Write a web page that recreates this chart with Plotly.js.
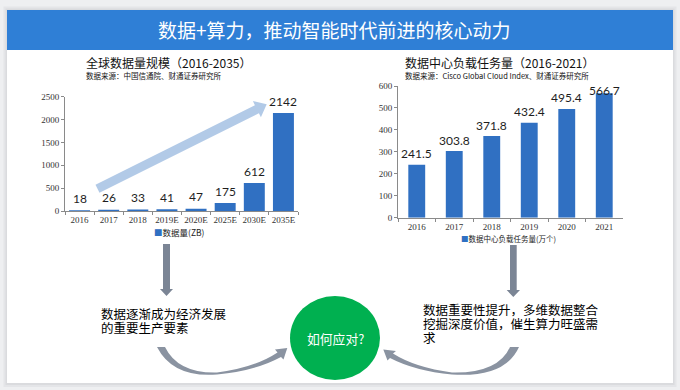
<!DOCTYPE html>
<html>
<head>
<meta charset="utf-8">
<script src="https://cdn.plot.ly/plotly-3.0.1.min.js"></script>
<style>
html,body{margin:0;padding:0;background:#eeeff1;}
#chart{width:680px;height:390px;}
</style>
</head>
<body>
<div id="chart"></div>
<script>
// ---- data ----
const leftCategories = ['2016','2017','2018','2019E','2020E','2025E','2030E','2035E'];
const leftValues = [18, 26, 33, 41, 47, 175, 612, 2142];
const leftTitle = '全球数据量规模（2016-2035）';
const leftSource = '数据来源：中国信通院、财通证券研究所';
const leftSeriesName = '数据量(ZB)';

const rightCategories = ['2016','2017','2018','2019','2020','2021'];
const rightValues = [241.5, 303.8, 371.8, 432.4, 495.4, 566.7];
const rightTitle = '数据中心负载任务量（2016-2021）';
const rightSource = '数据来源：Cisco Global Cloud Index、财通证券研究所';
const rightSeriesName = '数据中心负载任务量(万个)';

const mainTitle = '数据+算力，推动智能时代前进的核心动力';
const leftNoteLines = ['数据逐渐成为经济发展', '的重要生产要素'];
const rightNoteLines = ['数据重要性提升，多维数据整合', '挖掘深度价值，催生算力旺盛需', '求'];
const centerText = '如何应对?';

// ---- helpers ----
const W = 680, H = 390;
const fx = x => x / W;
const fy = y => 1 - y / H;
function path(cmds){
  return cmds.map(c => {
    const k = c[0]; const a = c.slice(1); const pts = [];
    for (let i = 0; i < a.length; i += 2) pts.push(fx(a[i]).toFixed(5) + ',' + fy(a[i+1]).toFixed(5));
    return k + pts.join(' ');
  }).join(' ') + ' Z';
}
function rectP(x0,y0,x1,y1,color,layer){
  return {type:'rect', xref:'paper', yref:'paper', x0:fx(x0), x1:fx(x1), y0:fy(y1), y1:fy(y0),
          fillcolor:color, line:{width:0}, layer:layer||'below'};
}
function txt(x,y,text,size,color,xanchor,family,extra){
  return Object.assign({xref:'paper', yref:'paper', x:fx(x), y:fy(y), text:text, showarrow:false,
    xanchor:xanchor||'left', yanchor:'middle', align:'left',
    font:{size:size, color:color, family:family||'Noto Sans CJK SC'}}, extra||{});
}

const barColor = '#3070c2';
const cjk = 'Noto Sans CJK SC';
const serif = 'Liberation Serif, Times New Roman, serif';
const numFont = 'Lato, Liberation Sans, sans-serif';

// plot geometry (pixels)
const L = {x0:65, x1:298, yb:211, yt:96.7, max:2500};
const R = {x0:398, x1:623, yb:217.7, yt:86, max:600};

const traces = [
  {type:'bar', x:leftCategories, y:leftValues, xaxis:'x', yaxis:'y', width:0.72,
   marker:{color:barColor}, hoverinfo:'skip', showlegend:false},
  {type:'bar', x:rightCategories, y:rightValues, xaxis:'x2', yaxis:'y2', width:0.45,
   marker:{color:barColor}, hoverinfo:'skip', showlegend:false}
];

const axisCommon = {showline:true, linecolor:'#8a8a8a', linewidth:1, ticks:'outside', ticklen:3,
  tickcolor:'#8a8a8a', showgrid:false, zeroline:false, fixedrange:true, tickangle:0,
  tickfont:{family:serif, size:9, color:'#333'}};

const annotations = [];
// data labels (x given as category index)
function labels(cats, vals, geom, axX, axY, fmt, maxShift){
  const hpx = geom.yb - geom.yt;
  cats.forEach((c,i) => {
    const room = (geom.max - vals[i]) / geom.max * hpx - 4;
    annotations.push({xref:axX, yref:axY, x:i, y:vals[i], text:fmt(vals[i]), showarrow:false,
      yanchor:'middle', xanchor:'center', yshift:Math.min(maxShift, room),
      font:{family:numFont, size:12, color:'#1e1e1e'}});
  });
}
labels(leftCategories, leftValues, L, 'x', 'y', v => String(v), 12);
labels(rightCategories, rightValues, R, 'x2', 'y2', v => v.toFixed(1), 11);

// titles
annotations.push(txt(334, 30, mainTitle, 19, '#ffffff', 'center', cjk));
annotations.push(txt(84, 63, leftTitle, 12, '#111', 'left', cjk));
annotations.push(txt(84, 75.5, leftSource, 7.5, '#111', 'left', cjk));
annotations.push(txt(403, 63, rightTitle, 12, '#111', 'left', cjk));
annotations.push(txt(403, 76, rightSource, 7.5, '#111', 'left', cjk));
// legends
annotations.push(txt(152, 232, '<span style="color:' + barColor + '">■</span>' + leftSeriesName, 8.5, '#222', 'left', cjk));
annotations.push(txt(459, 238, '<span style="color:' + barColor + '">■</span>' + rightSeriesName, 7.5, '#222', 'left', cjk));
// notes (one text per line, lines 14px apart as in the reference)
const lineBox = {height:13.5, borderpad:0};
leftNoteLines.forEach((t,i) => annotations.push(txt(100, 313.5 + i*14.3, t, 12.5, '#000', 'left', cjk, lineBox)));
rightNoteLines.forEach((t,i) => annotations.push(txt(422, 310 + i*14, t, 12.5, '#000', 'left', cjk, lineBox)));
annotations.push(txt(335.5, 338, centerText, 12.8, '#ffffff', 'center', cjk));

// shapes
const gray = '#7b8595';
const shapes = [
  rectP(3.5, 6.5, 676.5, 387, '#e4e5e8'),
  rectP(5.5, 8.5, 674.5, 385, '#dadbde'),
  rectP(7, 10, 673, 383, '#ffffff'),
  rectP(7, 10, 673, 50, '#2f7fd6'),
  // big trend arrow
  {type:'path', xref:'paper', yref:'paper', layer:'above', fillcolor:'rgba(170,196,228,0.9)', line:{width:0},
   path: path([['M',95.5,184.7],['L',254.9,105.2],['L',252.9,101.1],['L',266.7,104.3],['L',260.9,117.3],['L',258.9,113.2],['L',99.5,192.7]])},
  // vertical arrows
  {type:'path', xref:'paper', yref:'paper', layer:'above', fillcolor:gray, line:{width:0},
   path: path([['M',163,244],['L',170,244],['L',170,289],['L',173,289],['L',166.5,296],['L',160,289],['L',163,289]])},
  {type:'path', xref:'paper', yref:'paper', layer:'above', fillcolor:gray, line:{width:0},
   path: path([['M',510,245],['L',516.7,245],['L',516.7,290],['L',520,290],['L',513.3,297],['L',506.7,290],['L',510,290]])},
  // curved arrows
  {type:'path', xref:'paper', yref:'paper', layer:'above', fillcolor:'#8a93a1', line:{width:0},
   path: path([['M',157,347],['Q',173,378,217,374.5],['Q',255,371,281,357],['L',283.5,359.5],['L',287.3,348],['L',275,349.5],['L',277.5,352.5],['Q',255,367.5,217,372.5],['Q',178,373.5,165,347]])},
  {type:'path', xref:'paper', yref:'paper', layer:'above', fillcolor:'#8a93a1', line:{width:0},
   path: path([['M',519,347],['Q',505,378,452,374.5],['Q',415,371,390,358],['L',387.5,360.5],['L',383.3,349.5],['L',396,351],['L',393,353.5],['Q',415,367.5,452,372.5],['Q',498,373.5,510,347]])},
  // green ellipse
  {type:'circle', xref:'paper', yref:'paper', layer:'above', x0:fx(290), x1:fx(380), y0:fy(380), y1:fy(296),
   fillcolor:'#00b050', line:{width:0}}
];

const layout = {
  width:W, height:H, autosize:false, margin:{l:0,r:0,t:0,b:0,pad:0},
  paper_bgcolor:'#eeeff1', plot_bgcolor:'rgba(0,0,0,0)', showlegend:false,
  xaxis:Object.assign({}, axisCommon, {domain:[fx(L.x0), fx(L.x1)], anchor:'y', type:'category',
    categoryorder:'array', categoryarray:leftCategories, tickson:'boundaries',
    range:[-0.5, leftCategories.length - 0.5], autorange:false}),
  yaxis:Object.assign({}, axisCommon, {domain:[fy(L.yb), fy(L.yt)], anchor:'x', range:[0, L.max], autorange:false, dtick:500}),
  xaxis2:Object.assign({}, axisCommon, {domain:[fx(R.x0), fx(R.x1)], anchor:'y2', type:'category',
    categoryorder:'array', categoryarray:rightCategories, tickson:'boundaries',
    range:[-0.5, rightCategories.length - 0.5], autorange:false}),
  yaxis2:Object.assign({}, axisCommon, {domain:[fy(R.yb), fy(R.yt)], anchor:'x2', range:[0, R.max], autorange:false, dtick:100}),
  shapes:shapes,
  annotations:annotations
};

Plotly.newPlot('chart', traces, layout, {staticPlot:true, displayModeBar:false});
</script>
</body>
</html>
